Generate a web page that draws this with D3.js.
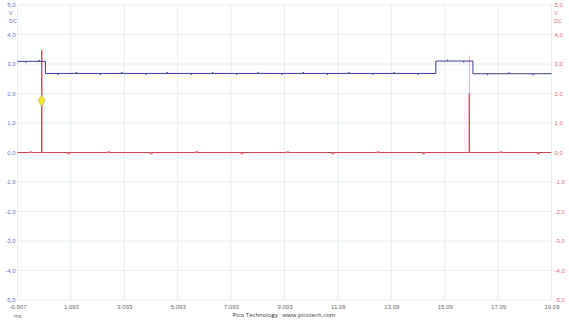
<!DOCTYPE html>
<html>
<head>
<meta charset="utf-8">
<script src="https://cdn.jsdelivr.net/npm/d3@7"></script>
<style>
  html, body { margin: 0; padding: 0; background: #fff; }
  svg { display: block; font-family: "Open Sans", "DejaVu Sans", sans-serif; }
</style>
</head>
<body>
<svg></svg>
<script>
// page size and plot frame
var width = 569;
var height = 320;
var plot = { left: 17.5, right: 551.5, top: 5, bottom: 300 };

// data
var timeTicks = [-0.907, 1.093, 3.093, 5.093, 7.093, 9.093, 11.093, 13.093, 15.093, 17.093, 19.093];
var timeLabels = ['-0.907', '1.093', '3.093', '5.093', '7.093', '9.093', '11.09', '13.09', '15.09', '17.09', '19.09'];
var voltTicks = [5, 4, 3, 2, 1, 0, -1, -2, -3, -4, -5];
// channel A (blue) : [ms, V]
var chanA = [
  [-0.907, 3.09], [0.14, 3.09], [0.14, 2.68], [14.76, 2.68],
  [14.76, 3.10], [16.15, 3.10], [16.15, 2.67], [19.093, 2.67]
];
// small glitches seen along channel A : [ms, V]
var chanAGlitch = [
  [-0.6, 3.06], [-0.1, 3.12], [0.6, 2.65], [1.3, 2.71], [2.2, 2.65], [3.0, 2.71],
  [3.9, 2.65], [4.7, 2.71], [5.6, 2.65], [6.4, 2.71], [7.3, 2.65], [8.1, 2.71],
  [9.0, 2.65], [9.8, 2.71], [10.7, 2.65], [11.5, 2.71], [12.4, 2.65], [13.2, 2.71],
  [14.1, 2.65], [15.2, 3.13], [15.8, 3.07], [16.7, 2.64], [17.5, 2.70], [18.4, 2.64]
];
// channel B (red) : [ms, V]
var chanB = [
  [-0.907, 0], [-0.005, 0], [0.0, 3.46], [0.005, 0],
  [16.01, 0], [16.015, 2.0], [16.025, 0], [19.093, 0]
];
// faint overshoot on the second red spike : [ms, V]
var chanBOvershoot = [[16.02, 2.0], [16.02, 3.3]];
// small glitches seen along channel B : [ms, V]
var chanBGlitch = [
  [-0.4, 0.04], [1.0, -0.04], [2.5, 0.04], [4.1, -0.04], [5.8, 0.04], [7.5, -0.04],
  [9.2, 0.04], [10.9, -0.04], [12.6, 0.04], [14.3, -0.04], [17.2, 0.04], [18.6, -0.04]
];
// trigger marker
var trigger = [[0.0, 1.76]];

var svg = d3.select('svg')
  .attr('width', width)
  .attr('height', height);

var xScale = d3.scaleLinear()
  .domain([-0.907, 19.093])
  .range([plot.left, plot.right]);
var yScale = d3.scaleLinear()
  .domain([-5, 5])
  .range([plot.bottom, plot.top]);
var fmtV = function(v){ return d3.format('.1f')(v).replace('.', ',').replace('−', '-'); };

/*********grid************/
var gridG = svg.append('g').attr('stroke', '#e4eef4').attr('stroke-width', 1);
gridG.selectAll('line.v').data(timeTicks).enter().append('line')
  .attr('x1', function(d){ return xScale(d); })
  .attr('x2', function(d){ return xScale(d); })
  .attr('y1', plot.top).attr('y2', plot.bottom);
gridG.selectAll('line.h').data(voltTicks).enter().append('line')
  .attr('x1', plot.left).attr('x2', plot.right)
  .attr('y1', function(d){ return yScale(d); })
  .attr('y2', function(d){ return yScale(d); });

/*********axes************/
var axisL = d3.axisLeft(yScale).tickValues(voltTicks).tickFormat(fmtV).tickSize(0).tickPadding(2);
var axisR = d3.axisRight(yScale).tickValues(voltTicks).tickFormat(fmtV).tickSize(0).tickPadding(3);
var axisB = d3.axisBottom(xScale).tickValues(timeTicks)
  .tickFormat(function(d, i){ return timeLabels[i]; }).tickSize(0).tickPadding(5);

var gL = svg.append('g').attr('transform', 'translate(' + plot.left + ',0)').call(axisL);
var gR = svg.append('g').attr('transform', 'translate(' + plot.right + ',0)').call(axisR);
var gB = svg.append('g').attr('transform', 'translate(0,' + plot.bottom + ')').call(axisB);
[gL, gR, gB].forEach(function(g){ g.select('.domain').remove(); });
gL.selectAll('text').attr('font-size', 6).attr('fill', '#6a6ac4').attr('font-family', null);
gR.selectAll('text').attr('font-size', 6).attr('fill', '#dc6a78').attr('font-family', null);
gB.selectAll('text').attr('font-size', 6).attr('fill', '#666').attr('font-family', null);

// units under the top labels
svg.append('text').attr('x', 9).attr('y', 15).attr('font-size', 6).attr('fill', '#6a6ac4').text('V');
svg.append('text').attr('x', 9).attr('y', 22.5).attr('font-size', 6).attr('fill', '#6a6ac4').text('DC');
svg.append('text').attr('x', 554).attr('y', 15).attr('font-size', 6).attr('fill', '#dc6a78').text('V');
svg.append('text').attr('x', 554).attr('y', 22.5).attr('font-size', 6).attr('fill', '#dc6a78').text('DC');
svg.append('text').attr('x', xScale(-0.907)).attr('y', 318).attr('text-anchor', 'middle')
  .attr('font-size', 5.5).attr('fill', '#666').text('ms');
svg.append('text').attr('x', 284).attr('y', 317).attr('text-anchor', 'middle')
  .attr('font-size', 6).attr('fill', '#333').attr('xml:space', 'preserve')
  .text('Pico Technology   www.picotech.com');

/*********traces************/
var line = d3.line()
  .x(function(d){ return xScale(d[0]); })
  .y(function(d){ return yScale(d[1]); });
svg.append('path').datum(chanB)
  .attr('d', line).attr('fill', 'none')
  .attr('stroke', '#d6404e').attr('stroke-width', 1);
svg.append('path').datum(chanBOvershoot)
  .attr('d', line).attr('fill', 'none')
  .attr('stroke', '#e8a0a8').attr('stroke-width', 0.8);
svg.selectAll('rect.bg').data(chanBGlitch).enter().append('rect')
  .attr('class', 'bg')
  .attr('x', function(d){ return xScale(d[0]) - 1.5; })
  .attr('y', function(d){ return Math.min(yScale(d[1]), yScale(0)); })
  .attr('width', 3)
  .attr('height', function(d){ return Math.abs(yScale(d[1]) - yScale(0)) + 0.6; })
  .attr('fill', '#e07080');

svg.append('path').datum(chanA)
  .attr('d', line).attr('fill', 'none')
  .attr('stroke', '#3a3aa2').attr('stroke-width', 1);
svg.selectAll('rect.ag').data(chanAGlitch).enter().append('rect')
  .attr('class', 'ag')
  .attr('x', function(d){ return xScale(d[0]) - 0.6; })
  .attr('y', function(d){ return yScale(d[1]) - 0.6; })
  .attr('width', 1.2).attr('height', 1.2)
  .attr('fill', '#3a3aa2');

var sym = d3.symbol().type(d3.symbolDiamond).size(40);
svg.selectAll('path.trig').data(trigger).enter().append('path')
  .attr('class', 'trig')
  .attr('d', sym)
  .attr('transform', function(d){ return 'translate(' + xScale(d[0]) + ',' + yScale(d[1]) + ')'; })
  .attr('fill', '#f2e62c').attr('stroke', '#a8a860').attr('stroke-width', 0.6);
</script>
</body>
</html>
